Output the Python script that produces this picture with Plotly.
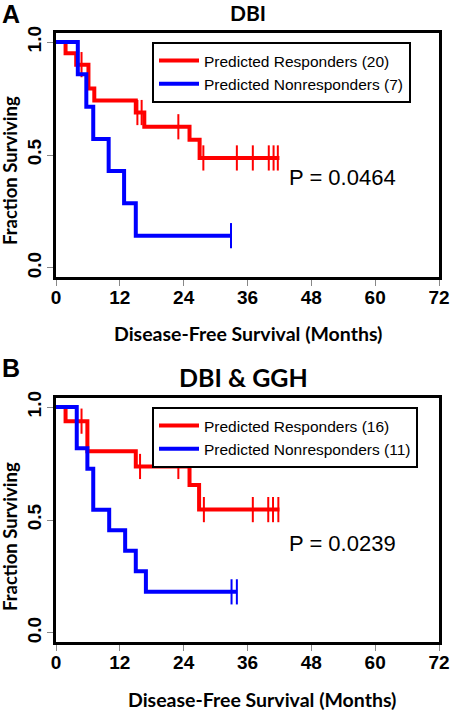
import plotly.graph_objects as go

# ---------------- Data ----------------
# Panel A: DBI
a_resp_t = [0, 1.8, 3.8, 6.1, 7.2, 15.0, 16.6, 25.1, 27.0, 42.0]
a_resp_s = [1.0, 0.95, 0.90, 0.794, 0.741, 0.688, 0.625, 0.568, 0.487, 0.487]
a_resp_cens_t = [4.8, 15.3, 16.1, 23.0, 27.7, 34.0, 37.0, 40.0, 40.9, 41.7]
a_resp_cens_s = [0.90, 0.688, 0.688, 0.625, 0.487, 0.487, 0.487, 0.487, 0.487, 0.487]
a_non_t = [0, 4.1, 5.7, 7.0, 9.9, 12.8, 15.0, 32.9]
a_non_s = [1.0, 0.857, 0.714, 0.571, 0.429, 0.286, 0.143, 0.143]
a_non_cens_t = [32.9]
a_non_cens_s = [0.143]

# Panel B: DBI & GGH
b_resp_t = [0, 1.8, 5.9, 15.0, 25.1, 26.9, 42.0]
b_resp_s = [1.0, 0.9375, 0.804, 0.737, 0.655, 0.546, 0.546]
b_resp_cens_t = [4.8, 15.8, 23.0, 27.8, 37.0, 39.9, 40.8, 41.8]
b_resp_cens_s = [0.9375, 0.737, 0.737, 0.546, 0.546, 0.546, 0.546, 0.546]
b_non_t = [0, 3.9, 5.9, 7.0, 10.0, 13.0, 15.0, 16.9, 34.0]
b_non_s = [1.0, 0.818, 0.727, 0.545, 0.455, 0.364, 0.273, 0.182, 0.182]
b_non_cens_t = [33.0, 34.0]
b_non_cens_s = [0.182, 0.182]

a_labels = ["Predicted Responders (20)", "Predicted Nonresponders (7)"]
b_labels = ["Predicted Responders (16)", "Predicted Nonresponders (11)"]
panel_titles = ["DBI", "DBI &amp; GGH"]
panel_letters = ["A", "B"]
p_values = ["P = 0.0464", "P = 0.0239"]
x_ticks = [0, 12, 24, 36, 48, 60, 72]
y_ticks = [0.0, 0.5, 1.0]
y_tick_text = ["0.0", "0.5", "1.0"]

RED = "#FF0000"
BLUE = "#0000FF"
W, H = 450, 710

fig = go.Figure()

def add_panel(xa, ya, legend, rt, rs, rct, rcs, nt, ns, nct, ncs, labels):
    for t, s, ct, cs, col, lab in [(rt, rs, rct, rcs, RED, labels[0]),
                                   (nt, ns, nct, ncs, BLUE, labels[1])]:
        fig.add_trace(go.Scatter(x=t, y=s, mode="lines", line=dict(color=col, width=4, shape="hv"),
                                 name=lab, xaxis=xa, yaxis=ya, legend=legend, showlegend=True))
        fig.add_trace(go.Scatter(x=ct, y=cs, mode="markers",
                                 marker=dict(symbol="line-ns", size=18, color=col,
                                             line=dict(color=col, width=2)),
                                 xaxis=xa, yaxis=ya, showlegend=False, hoverinfo="skip"))

add_panel("x", "y", "legend", a_resp_t, a_resp_s, a_resp_cens_t, a_resp_cens_s,
          a_non_t, a_non_s, a_non_cens_t, a_non_cens_s, a_labels)
add_panel("x2", "y2", "legend2", b_resp_t, b_resp_s, b_resp_cens_t, b_resp_cens_s,
          b_non_t, b_non_s, b_non_cens_t, b_non_cens_s, b_labels)

def px_x(p):
    return p / W

def px_y(p):
    return 1 - p / H

tickfont = dict(family="Liberation Sans, Arial", size=19, color="black")
xcommon = dict(range=[0, 72], tickvals=x_ticks, ticktext=["<b>%d</b>" % v for v in x_ticks],
               showline=True, linecolor="black", linewidth=2.5, mirror=True,
               ticks="outside", ticklen=6, tickcolor="#888888", tickwidth=1,
               automargin=False, ticklabelstandoff=-5,
               showgrid=False, zeroline=False, tickfont=tickfont, fixedrange=True)
ycommon = dict(range=[-0.04, 1.04], tickvals=y_ticks, ticktext=["<b>%s</b>" % t for t in y_tick_text],
               showline=True, linecolor="black", linewidth=2.5, mirror=True,
               ticks="outside", ticklen=6, tickcolor="#888888", tickwidth=1,
               tickangle=-90, ticklabelstandoff=-1, automargin=False,
               showgrid=False, zeroline=False, tickfont=tickfont, fixedrange=True)

xdom = [px_x(56), px_x(439)]
fig.update_layout(
    template="none",
    width=W, height=H,
    margin=dict(l=0, r=0, t=0, b=0),
    paper_bgcolor="white", plot_bgcolor="white",
    xaxis=dict(domain=xdom, anchor="y", **xcommon),
    yaxis=dict(domain=[px_y(277), px_y(33)], anchor="x", **ycommon),
    xaxis2=dict(domain=xdom, anchor="y2", **xcommon),
    yaxis2=dict(domain=[px_y(642), px_y(398)], anchor="x2", **ycommon),
)

legfont = dict(family="Liberation Sans, Arial", size=15.5, color="black")
leg_common = dict(xanchor="left", yanchor="top", bgcolor="white", bordercolor="black",
                  borderwidth=2, font=legfont, itemwidth=40, tracegroupgap=0,
                  traceorder="normal")
fig.update_layout(
    legend=dict(x=px_x(152), y=px_y(42), **leg_common),
    legend2=dict(x=px_x(152), y=px_y(407), **leg_common),
)

annots = []
title_font = "Lato, Open Sans, sans-serif"
annots.append(dict(text="<b>%s</b>" % panel_letters[0], x=px_x(0), y=px_y(14), xanchor="left", yanchor="middle",
                   font=dict(family="Liberation Sans, Arial", size=25, color="black")))
annots.append(dict(text="<b>%s</b>" % panel_letters[1], x=px_x(0), y=px_y(368), xanchor="left", yanchor="middle",
                   font=dict(family="Liberation Sans, Arial", size=25, color="black")))
annots.append(dict(text="<b>%s</b>" % panel_titles[0], x=px_x(248), y=px_y(13), xanchor="center", yanchor="middle",
                   font=dict(family=title_font, size=21, color="black")))
annots.append(dict(text="<b>%s</b>" % panel_titles[1], x=px_x(243), y=px_y(377), xanchor="center",
                   yanchor="middle", font=dict(family=title_font, size=25, color="black")))
annots.append(dict(text=p_values[0], x=px_x(287), y=px_y(177), xanchor="left", yanchor="middle",
                   font=dict(family="Liberation Sans, Arial", size=22, color="black")))
annots.append(dict(text=p_values[1], x=px_x(287), y=px_y(543), xanchor="left", yanchor="middle",
                   font=dict(family="Liberation Sans, Arial", size=22, color="black")))
annots.append(dict(text="<b>Disease-Free Survival (Months)</b>", x=px_x(248), y=px_y(333),
                   xanchor="center", yanchor="middle",
                   font=dict(family=title_font, size=19.5, color="black")))
annots.append(dict(text="<b>Disease-Free Survival (Months)</b>", x=px_x(262), y=px_y(699),
                   xanchor="center", yanchor="middle",
                   font=dict(family=title_font, size=19.5, color="black")))
annots.append(dict(text="<b>Fraction Surviving</b>", x=px_x(10), y=px_y(171), textangle=-90,
                   xanchor="center", yanchor="middle",
                   font=dict(family=title_font, size=18.5, color="black")))
annots.append(dict(text="<b>Fraction Surviving</b>", x=px_x(10), y=px_y(537), textangle=-90,
                   xanchor="center", yanchor="middle",
                   font=dict(family=title_font, size=18.5, color="black")))

for a in annots:
    a.update(xref="paper", yref="paper", showarrow=False)
fig.update_layout(annotations=annots)

fig.write_html("out.html", config={"displayModeBar": False},
               post_script="document.body.style.margin='0';document.body.style.padding='0';")
